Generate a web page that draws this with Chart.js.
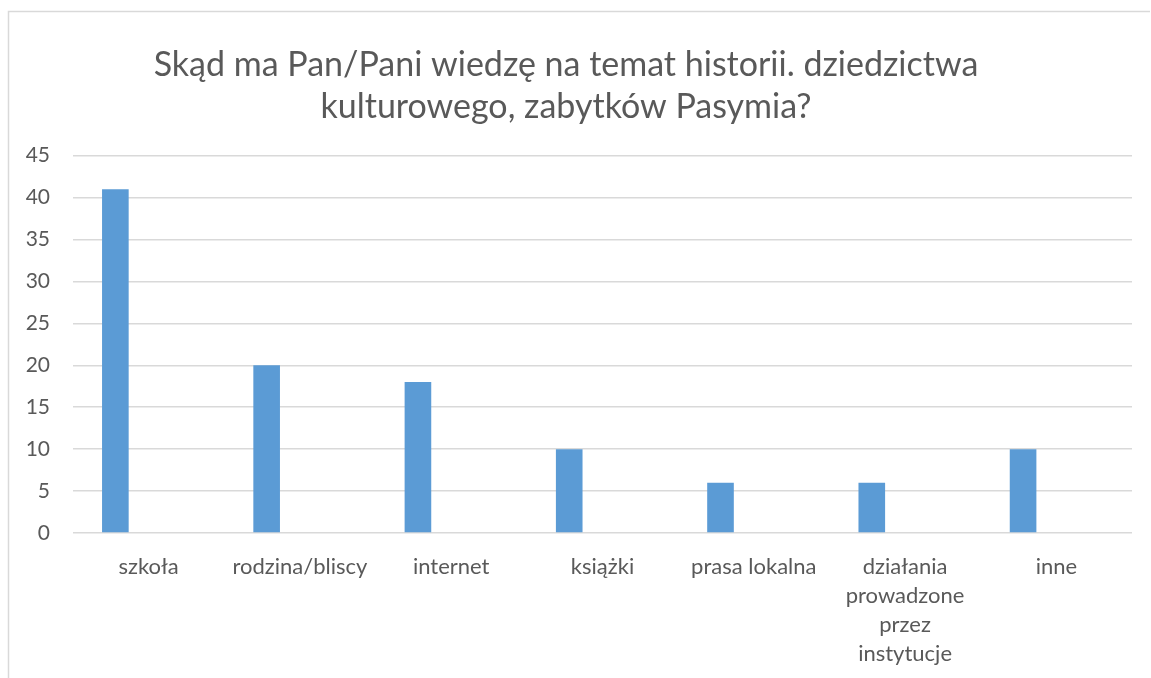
<!DOCTYPE html>
<html>
<head>
<meta charset="utf-8">
<script src="https://cdn.jsdelivr.net/npm/chart.js@4/dist/chart.umd.min.js"></script>
<style>
  html, body { margin: 0; padding: 0; background: #fff; }
  #wrap { position: relative; width: 1151px; height: 678px; }
</style>
</head>
<body>
<div id="wrap"><canvas id="c" width="1151" height="678"></canvas></div>
<script>
const titleLines = ["Skąd ma Pan/Pani wiedzę na temat historii. dziedzictwa", "kulturowego, zabytków Pasymia?"];
const categories = [
  "szkoła",
  "rodzina/bliscy",
  "internet",
  "książki",
  "prasa lokalna",
  ["działania", "prowadzone", "przez", "instytucje"],
  "inne"
];
const values = [41, 20, 18, 10, 6, 6, 10];
const emptySeries = [null, null, null, null, null, null, null];
const yMin = 0, yMax = 45, yStep = 5;

const textColor = "#595959";
const gridColor = "#d9d9d9";
const fontFamily = "Lato, 'Open Sans', sans-serif";

const borderPlugin = {
  id: "frame",
  beforeDraw(chart) {
    const ctx = chart.ctx;
    ctx.save();
    ctx.fillStyle = "#fff";
    ctx.fillRect(0, 0, chart.width, chart.height);
    ctx.strokeStyle = "#d9d9d9";
    ctx.lineWidth = 1.5;
    ctx.beginPath();
    ctx.moveTo(8.5, chart.height);
    ctx.lineTo(8.5, 11.5);
    ctx.lineTo(1150, 11.5);
    ctx.stroke();
    ctx.restore();
  }
};

new Chart(document.getElementById("c"), {
  type: "bar",
  data: {
    labels: categories,
    datasets: [
      { label: "Seria 1", data: values, backgroundColor: "#5B9BD5", borderWidth: 0,
        categoryPercentage: 0.88, barPercentage: 0.4 },
      { label: "Seria 2", data: emptySeries, backgroundColor: "#ED7D31", borderWidth: 0,
        categoryPercentage: 0.88, barPercentage: 0.4 }
    ]
  },
  options: {
    responsive: false,
    animation: false,
    layout: { padding: { left: 0, right: 19, top: 0, bottom: 0 } },
    plugins: {
      legend: { display: false },
      tooltip: { enabled: false },
      title: {
        display: true,
        text: titleLines,
        color: textColor,
        font: { family: fontFamily, size: 34, weight: "normal", lineHeight: 1.23 },
        padding: { top: 44, bottom: 28 }
      }
    },
    scales: {
      x: {
        grid: { display: false, drawTicks: false },
        border: { display: false },
        ticks: {
          color: textColor,
          font: { family: fontFamily, size: 22, lineHeight: 1.32 },
          maxRotation: 0, minRotation: 0, autoSkip: false, padding: 19
        },
        afterFit(scale) { scale.height = 145; }
      },
      y: {
        min: yMin, max: yMax,
        ticks: {
          stepSize: yStep,
          color: textColor,
          font: { family: fontFamily, size: 21 },
          padding: 23
        },
        grid: { color: gridColor, lineWidth: 1.5, drawTicks: false },
        border: { display: false },
        afterFit(scale) { scale.width = 73; }
      }
    }
  },
  plugins: [borderPlugin]
});
</script>
</body>
</html>
